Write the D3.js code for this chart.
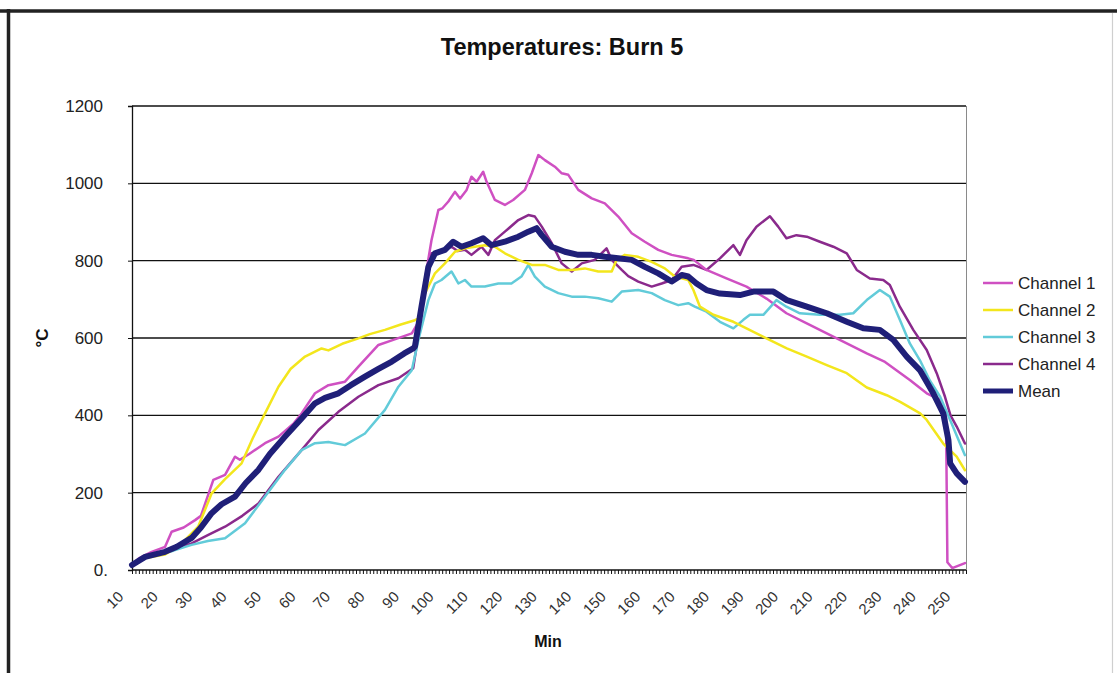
<!DOCTYPE html>
<html>
<head>
<meta charset="utf-8">
<script src="https://cdn.jsdelivr.net/npm/d3@7"></script>
<style>
  html, body { margin: 0; padding: 0; background: #fff; }
  svg { display: block; font-family: "Liberation Sans", Arial, sans-serif; }
</style>
</head>
<body>
<svg id="chart" width="1117" height="673"></svg>
<script>
// ---------------- DATA ----------------
const chartTitle = "Temperatures: Burn 5";
const xTitle = "Min";
const yTitle = "°C";
const seriesNames = ["Channel 1", "Channel 2", "Channel 3", "Channel 4", "Mean"];
const xTickLabels = [10, 20, 30, 40, 50, 60, 70, 80, 90, 100, 110, 120, 130, 140, 150, 160, 170, 180, 190, 200, 210, 220, 230, 240, 250];
const yTickValues = [0, 200, 400, 600, 800, 1000, 1200];

const ch1Min  = [13,15,18.7,22.6,24.5,28,31.3,33,36.6,40,42.9,44.3,47,51.6,55.5,60,62.2,66.1,70,74.8,78.7,84.5,88.4,94.2,96,98,99.9,101.9,103,104.8,106.7,108.2,110.1,111.5,113,114.9,115.9,118.3,121.2,123.6,127,129,130.9,132.8,135.7,137.7,139.6,142.5,146.4,150.2,154.1,158,161.8,165.7,169.6,174.4,176,179.7,185.5,191.3,197.1,202.9,208.8,214.6,220.4,226.2,231.5,238.8,243.6,247.5,249.2,249.6,251,254.7];
const ch1Temp = [13,30,47,60,99,110,129,140,233,246,293,285,300,328,345,380,405,457,478,487,526,582,594,612,640,750,853,931,935,953,978,961,983,1017,1004,1030,1004,957,944,957,983,1026,1073,1060,1043,1026,1022,983,961,948,914,871,849,828,815,806,802,776,754,733,702,664,638,612,586,560,538,491,457,440,400,20,5,18];

const ch2Min  = [13,16,22.6,27,32.2,36.1,40,44.8,48,51.6,55.5,59,63.2,68,70,74,78.7,82,86.4,91,95.1,96,98,100.9,103.8,106.7,109.6,112.5,115.4,118.3,121.2,125.1,129,132.8,136.7,140.6,144.4,148.3,152.2,153.6,156,159.9,163.8,167.6,170.5,174.4,175.9,177.8,181.7,187.5,191.3,197.1,203,208.8,214.6,220.4,226.2,232,235.9,241.7,243.6,248.4,252.3,254.7];
const ch2Temp = [13,30,40,65,112,198,235,276,340,405,474,520,552,573,568,585,599,610,621,635,646,650,715,767,793,823,832,836,840,836,819,802,789,789,776,776,780,772,772,802,815,810,797,780,759,750,724,681,660,642,625,599,573,552,530,509,472,452,435,405,388,327,293,258];

const ch3Min  = [13,18,25,30.3,35,40,45.8,51.6,57.4,62.2,66.1,70,74.8,80.6,86.4,90.3,94.2,96.1,99,100.9,102.8,105.7,107.7,109.6,111.5,115.4,119.3,123.1,126,128,129.9,132.8,136.7,140.6,144.4,148.3,152.2,155.1,159.9,163.8,167.6,171.5,174.4,176.3,179.7,183.6,187.5,190.4,192.3,196.2,200,202.9,206.8,212.6,218.4,222.3,226.2,230,232.9,235.8,238.7,241.6,244.5,247.5,250.4,254.7];
const ch3Temp = [13,35,50,65,75,82,121,190,259,310,328,331,323,353,414,474,517,595,698,741,750,772,741,750,733,733,741,741,759,789,759,733,716,707,707,703,694,720,724,716,698,685,690,681,668,642,625,647,660,660,698,681,664,660,660,664,698,724,707,647,586,543,490,448,388,297];

const ch4Min  = [13,18,24,30.3,35,40,45,49.7,55.5,62.2,67.1,72.9,78.7,84.5,90.3,94.6,96,98,99.9,102,105.7,107.5,109.6,111.5,114.4,116.4,118.3,121.2,125.1,128,129.9,131.9,134.8,137.7,140.6,143.5,147.3,150.7,152.2,155.1,157,159.9,163.8,166.7,169.6,172.5,175.9,179.7,183.6,187.5,189.4,191.3,194.2,198.1,200.5,202.9,205.8,208.8,212.6,216.5,220.4,223.3,227.1,231,232.9,235.8,239.7,243.6,246.5,248.9,250.5,252.3,254.7];
const ch4Temp = [13,35,50,69,90,112,140,172,241,310,362,409,448,478,496,522,603,741,819,820,836,825,828,815,836,815,853,875,905,918,914,888,845,793,772,793,802,832,802,776,760,746,733,741,750,784,789,776,806,840,815,853,888,915,888,858,866,862,849,836,819,776,754,750,737,681,621,569,509,448,400,371,327];

const meanMin  = [13,16.8,22.6,26,30.3,33,36.1,39,42.9,46,49.7,53,57.4,62,66.1,69,72.9,76.5,80.6,84.5,88.4,92,94.6,95.1,97,99,100.9,103.8,106.2,108.6,111.5,114.9,117.3,121.2,125.1,128,130.4,131.9,134.8,138.6,142.5,146.4,150.2,154.1,158,161.8,165.7,169.6,172.5,174.4,176.8,179.7,183.6,189.4,193.3,199.1,203,208.8,214.6,220.4,225.2,230,233.9,237.8,241.6,245.5,248.4,249.9,250.4,252.3,254.7];
const meanTemp = [13,34,47,60,83,110,147,170,190,225,259,300,345,390,431,445,457,478,500,520,539,560,573,578,681,784,819,828,849,836,845,858,840,849,862,875,884,866,836,823,815,815,810,806,802,784,767,746,763,759,741,724,715,711,720,720,698,681,664,642,625,621,595,552,517,457,405,336,276,250,228];

const seriesMins  = [ch1Min, ch2Min, ch3Min, ch4Min, meanMin];
const seriesTemps = [ch1Temp, ch2Temp, ch3Temp, ch4Temp, meanTemp];

// ---------------- STYLE ----------------
const colors = ["#cf50c2", "#f3e61c", "#62cbd9", "#8a2a8c", "#1f1f78"];
const widths = [2.5, 2.5, 2.5, 2.5, 6];

const svg = d3.select("#chart");
const W = 1117, H = 673;
const plot = { left: 132, right: 966, top: 106, bottom: 570 };

svg.append("rect").attr("width", W).attr("height", H).attr("fill", "#fff");
// outer frame
svg.append("line").attr("x1", 0).attr("x2", W).attr("y1", 11).attr("y2", 11)
  .attr("stroke", "#222").attr("stroke-width", 3.5);
svg.append("line").attr("x1", 8.5).attr("x2", 8.5).attr("y1", 9).attr("y2", H)
  .attr("stroke", "#222").attr("stroke-width", 3.5);
svg.append("line").attr("x1", 1112.5).attr("x2", 1112.5).attr("y1", 13).attr("y2", H)
  .attr("stroke", "#cfcfcf").attr("stroke-width", 1.2);

const x = d3.scaleLinear().domain([13, 255]).range([plot.left, plot.right]);
const y = d3.scaleLinear().domain([0, 1200]).range([plot.bottom, plot.top]);

// gridlines
svg.append("g").selectAll("line").data(yTickValues.filter(v => v > 0)).join("line")
  .attr("x1", plot.left).attr("x2", plot.right)
  .attr("y1", d => y(d)).attr("y2", d => y(d))
  .attr("stroke", "#111").attr("stroke-width", 1.3);
// plot right border
svg.append("line").attr("x1", plot.right + 0.5).attr("x2", plot.right + 0.5)
  .attr("y1", plot.top).attr("y2", plot.bottom)
  .attr("stroke", "#8a8a8a").attr("stroke-width", 1);

// y axis
const yAxis = svg.append("g").attr("transform", `translate(${plot.left},0)`)
  .call(d3.axisLeft(y).tickValues(yTickValues).tickSize(4).tickPadding(25)
    .tickFormat(d => d === 0 ? "0." : String(d)));
yAxis.select(".domain").attr("stroke", "#111").attr("stroke-width", 1.3);
yAxis.selectAll(".tick line").attr("stroke", "#111");
yAxis.selectAll(".tick text").attr("font-size", 17).attr("fill", "#222")
  .attr("font-family", "Liberation Sans, Arial, sans-serif")
  .attr("dx", d => d === 0 ? 5 : 0);

// x axis minor ticks (every minute)
const xMinor = svg.append("g").attr("transform", `translate(0,${plot.bottom})`)
  .call(d3.axisBottom(x).tickValues(d3.range(13, 256)).tickSize(4).tickFormat(""));
xMinor.select(".domain").remove();
xMinor.selectAll(".tick line").attr("stroke", "#111").attr("stroke-width", 1);
svg.append("line").attr("x1", plot.left).attr("x2", plot.right)
  .attr("y1", plot.bottom).attr("y2", plot.bottom)
  .attr("stroke", "#111").attr("stroke-width", 1.5);

// x axis labels
const xLab = svg.append("g")
  .call(d3.axisBottom(x).tickValues(xTickLabels).tickSize(0).tickFormat(d => String(d)));
xLab.select(".domain").remove();
xLab.selectAll(".tick").attr("transform", d => `translate(${x(d) - 1},594)`);
xLab.selectAll(".tick text")
  .attr("transform", "rotate(-45)")
  .attr("text-anchor", "end").attr("x", 0).attr("y", 0).attr("dy", "0.35em")
  .attr("font-size", 15).attr("fill", "#333")
  .attr("font-family", "Liberation Sans, Arial, sans-serif");

// lines
const line = d3.line().x(d => x(d[0])).y(d => y(d[1]));
const drawOrder = [3, 0, 2, 1, 4];
drawOrder.forEach(i => {
  const pts = seriesMins[i].map((m, k) => [m, seriesTemps[i][k]]);
  svg.append("path").datum(pts)
    .attr("d", line).attr("fill", "none")
    .attr("stroke", colors[i]).attr("stroke-width", widths[i])
    .attr("stroke-linejoin", "round").attr("stroke-linecap", "round");
});

// titles
svg.append("text").attr("x", 562).attr("y", 55).attr("text-anchor", "middle")
  .attr("font-size", 23.5).attr("font-weight", "bold").attr("fill", "#111").text(chartTitle);
svg.append("text").attr("x", 548).attr("y", 647).attr("text-anchor", "middle")
  .attr("font-size", 16).attr("font-weight", "bold").attr("fill", "#111").text(xTitle);
svg.append("text").attr("transform", "translate(48,338) rotate(-90)").attr("text-anchor", "middle")
  .attr("font-size", 17).attr("font-weight", "bold").attr("fill", "#111").text(yTitle);

// legend
const leg = svg.append("g");
seriesNames.forEach((name, i) => {
  const ly = 283 + i * 27;
  leg.append("line").attr("x1", 983).attr("x2", 1013).attr("y1", ly).attr("y2", ly)
    .attr("stroke", colors[i]).attr("stroke-width", i === 4 ? 5 : 2.5);
  leg.append("text").attr("x", 1018).attr("y", ly).attr("dy", "0.36em")
    .attr("font-size", 17).attr("fill", "#222").text(name);
});
</script>
</body>
</html>
